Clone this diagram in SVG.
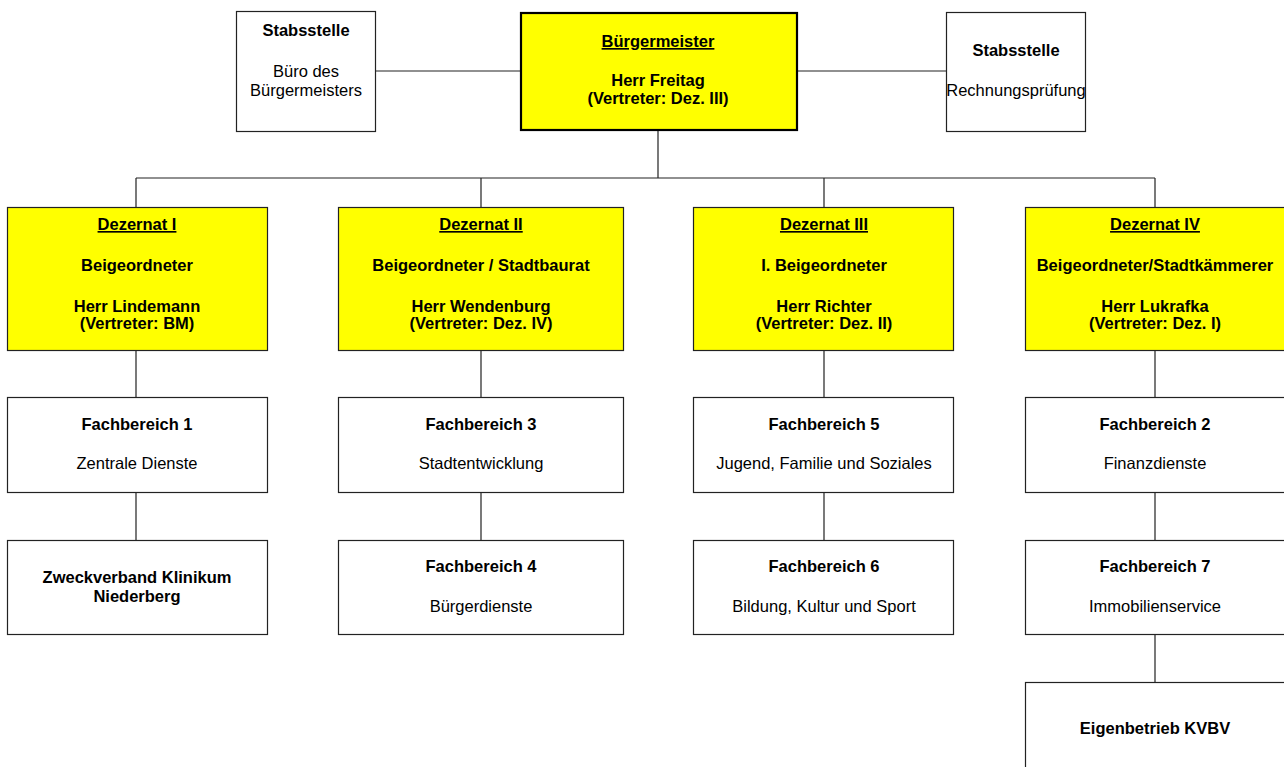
<svg xmlns="http://www.w3.org/2000/svg" width="1284" height="767" viewBox="0 0 1284 767">
<style>
text{font-family:"Liberation Sans",Arial,sans-serif;font-size:16.5px;text-anchor:middle;fill:#000}
.b{font-weight:bold}
.u{font-weight:bold;text-decoration:underline}
.box{fill:#fff;stroke:#222;stroke-width:1.2}
.y{fill:#ffff00;stroke:#222;stroke-width:1.2}
.bm{fill:#ffff00;stroke:#000;stroke-width:2.2}
.c{stroke:#222;stroke-width:1.2;fill:none}
</style>
<rect width="1284" height="767" fill="#fff"/>
<g id="connectors">
<path class="c" d="M375 71H520M797 71H946M658 130V178M136 178H1155M136 178V207M481 178V207M824 178V207M1155 178V207"/>
<path class="c" d="M136 350V397M481 350V397M824 350V397M1155 350V397"/>
<path class="c" d="M136 492V540M481 492V540M824 492V540M1155 492V540M1155 634V682"/>
</g>
<g id="stab1"><rect class="box" x="236.5" y="11.5" width="139" height="120"/>
<text class="b" x="306" y="36">Stabsstelle</text><text x="306" y="77">Büro des</text><text x="306" y="96">Bürgermeisters</text></g>
<g id="bm"><rect class="bm" x="521" y="13" width="276" height="117"/>
<text class="u" x="658" y="47">Bürgermeister</text><text class="b" x="658" y="86">Herr Freitag</text><text class="b" x="658" y="104">(Vertreter: Dez. III)</text></g>
<g id="stab2"><rect class="box" x="946.5" y="12.5" width="139" height="119"/>
<text class="b" x="1016" y="56">Stabsstelle</text><text x="1016" y="96">Rechnungsprüfung</text></g>

<g id="dez1"><rect class="y" x="7.5" y="207.5" width="260" height="143"/>
<text class="u" x="137" y="230">Dezernat I</text><text class="b" x="137" y="271">Beigeordneter</text><text class="b" x="137" y="312">Herr Lindemann</text><text class="b" x="137" y="329">(Vertreter: BM)</text></g>
<g id="dez2"><rect class="y" x="338.5" y="207.5" width="285" height="143"/>
<text class="u" x="481" y="230">Dezernat II</text><text class="b" x="481" y="271">Beigeordneter / Stadtbaurat</text><text class="b" x="481" y="312">Herr Wendenburg</text><text class="b" x="481" y="329">(Vertreter: Dez. IV)</text></g>
<g id="dez3"><rect class="y" x="693.5" y="207.5" width="260" height="143"/>
<text class="u" x="824" y="230">Dezernat III</text><text class="b" x="824" y="271">I. Beigeordneter</text><text class="b" x="824" y="312">Herr Richter</text><text class="b" x="824" y="329">(Vertreter: Dez. II)</text></g>
<g id="dez4"><rect class="y" x="1025.5" y="207.5" width="262" height="143"/>
<text class="u" x="1155" y="230">Dezernat IV</text><text class="b" x="1155" y="271">Beigeordneter/Stadtkämmerer</text><text class="b" x="1155" y="312">Herr Lukrafka</text><text class="b" x="1155" y="329">(Vertreter: Dez. I)</text></g>

<g id="fb1"><rect class="box" x="7.5" y="397.5" width="260" height="95"/>
<text class="b" x="137" y="430">Fachbereich 1</text><text x="137" y="469">Zentrale Dienste</text></g>
<g id="fb3"><rect class="box" x="338.5" y="397.5" width="285" height="95"/>
<text class="b" x="481" y="430">Fachbereich 3</text><text x="481" y="469">Stadtentwicklung</text></g>
<g id="fb5"><rect class="box" x="693.5" y="397.5" width="260" height="95"/>
<text class="b" x="824" y="430">Fachbereich 5</text><text x="824" y="469">Jugend, Familie und Soziales</text></g>
<g id="fb2"><rect class="box" x="1025.5" y="397.5" width="262" height="95"/>
<text class="b" x="1155" y="430">Fachbereich 2</text><text x="1155" y="469">Finanzdienste</text></g>

<g id="zvk"><rect class="box" x="7.5" y="540.5" width="260" height="94"/>
<text class="b" x="137" y="583">Zweckverband Klinikum</text><text class="b" x="137" y="602">Niederberg</text></g>
<g id="fb4"><rect class="box" x="338.5" y="540.5" width="285" height="94"/>
<text class="b" x="481" y="572">Fachbereich 4</text><text x="481" y="612">Bürgerdienste</text></g>
<g id="fb6"><rect class="box" x="693.5" y="540.5" width="260" height="94"/>
<text class="b" x="824" y="572">Fachbereich 6</text><text x="824" y="612">Bildung, Kultur und Sport</text></g>
<g id="fb7"><rect class="box" x="1025.5" y="540.5" width="262" height="94"/>
<text class="b" x="1155" y="572">Fachbereich 7</text><text x="1155" y="612">Immobilienservice</text></g>

<g id="kvbv"><rect class="box" x="1025.5" y="682.5" width="262" height="100"/>
<text class="b" x="1155" y="734">Eigenbetrieb KVBV</text></g>
</svg>
